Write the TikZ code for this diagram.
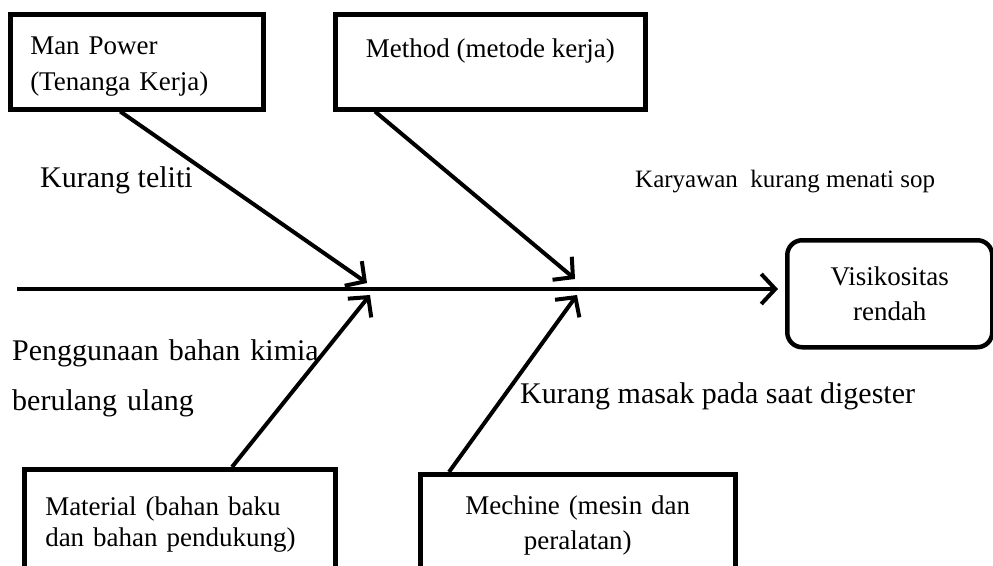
\documentclass[tikz,border=0pt]{standalone}
\usepackage{fontspec}
\setmainfont{Liberation Serif}
\usetikzlibrary{arrows.meta}

\tikzset{
	kotak/.style={draw, line width=4.5pt, inner xsep=20pt, inner ysep=0pt, anchor=north west, font=\fontsize{27}{36}\selectfont},
	panah/.style={line width=4pt, -{Straight Barb[length=14pt,width=30pt]}},
	sebab/.style={inner sep=0pt, anchor=base west, font=\fontsize{30}{50}\selectfont},
}

\begin{document}
\begin{tikzpicture}[x=1pt, y=-1pt]
	\clip (0, 0) rectangle (993, 565);

	% Kotak penyebab
	\node[kotak, text width=213pt, align=left, minimum height=95pt, text height=20pt, text depth=35pt] (man) at (8, 12) {Man Power\\(Tenanga Kerja)};
	\node[kotak, minimum width=310pt, minimum height=95pt, text height=19pt, text depth=28pt] (meth) at (333, 12) {Method (metode kerja)};
	\node[kotak, text width=269pt, inner xsep=21pt, inner ysep=28pt, align=left, font=\fontsize{27}{31}\selectfont] (mat) at (22, 467) {Material (bahan baku\\dan bahan pendukung)};
	\node[kotak, text width=275pt, inner ysep=22pt, align=center, font=\fontsize{27}{35}\selectfont] (mech) at (418, 472) {Mechine (mesin dan\\peralatan)};

	% Kotak akibat
	\node[kotak, rounded corners=15pt, text width=165pt, align=center, minimum height=107pt, font=\fontsize{27}{35}\selectfont] (visc) at (785, 238) {Visikositas\\rendah};

	% Tulang utama
	\coordinate (ekor) at (17, 289);
	\draw[panah, shorten >=7pt] (ekor) -- (ekor -| visc.west);

	% Titik pertemuan di tulang utama
	\coordinate (t1) at (367, 283);
	\coordinate (t2) at (575, 279);
	\coordinate (t3) at (370, 295);
	\coordinate (t4) at (577, 295);

	\draw[panah] ([xshift=-16.5pt]man.south) -- (t1);       % Man Power
	\draw[panah] ([xshift=42pt]meth.south west) -- (t2);    % Method
	\draw[panah] ([xshift=210pt]mat.north west) -- (t3);    % Material
	\draw[panah] ([xshift=31pt]mech.north west) -- (t4);    % Mechine

	% Keterangan
	\node[sebab] (teliti) at (40, 187) {Kurang teliti};
	\node[sebab, font=\fontsize{25}{30}\selectfont] (sop) at (635, 187) {Karyawan\ \ kurang menati sop};
	\node[sebab, anchor=north west, text width=330pt, align=left] (kimia) at (12, 339.5) {Penggunaan bahan kimia\\berulang ulang};
	\node[sebab] (masak) at (520, 403) {Kurang masak pada saat digester};
\end{tikzpicture}
\end{document}
